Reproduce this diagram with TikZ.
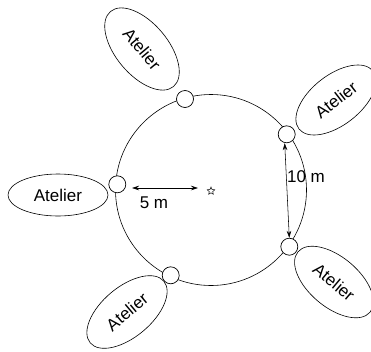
\documentclass[tikz,border=0pt]{standalone}
\usepackage{fontspec}
\setmainfont{Liberation Sans}
\usetikzlibrary{shapes.geometric,arrows.meta}
\begin{document}
\begin{tikzpicture}[x=1pt,y=-1pt,
  atelier/.style={draw,ellipse,inner sep=0pt,font=\fontsize{17}{20}\selectfont,line width=0.6pt},
  door/.style={draw,circle,fill=white,minimum size=17pt,inner sep=0pt,line width=0.7pt},
  dim/.style={line width=0.55pt,{Stealth[length=7pt,width=4.5pt]}-{Stealth[length=7pt,width=4.5pt]}},
  lbl/.style={font=\fontsize{17}{20}\selectfont,inner sep=0pt}]
\useasboundingbox (0,0) rectangle (371,351);
\coordinate (c) at (211,190);
\draw[line width=0.6pt] (c) circle[radius=95.5pt];
\node[door] (p1) at (185,99) {};
\node[door] (p2) at (286.7,134.3) {};
\node[door] (p3) at (117.3,184.3) {};
\node[door] (p4) at (289.3,246.7) {};
\node[door] (p5) at (170.7,275.3) {};
\node[atelier,minimum width=98pt,minimum height=52pt,rotate=-50] (a1) at (142,49) {Atelier};
\node[atelier,minimum width=94pt,minimum height=50pt,rotate=38] (a2) at (336,100) {Atelier};
\node[atelier,minimum width=100pt,minimum height=42pt] (a3) at (58,195) {Atelier};
\node[atelier,minimum width=94pt,minimum height=50pt,rotate=-40] (a4) at (334,282) {Atelier};
\node[atelier,minimum width=96pt,minimum height=50pt,rotate=40] (a5) at (127,312) {Atelier};
\node[star,star points=5,star point ratio=2.2,draw,minimum size=8pt,inner sep=0pt,line width=0.5pt] (s) at (211,191) {};
\coordinate (l1) at (132,188);
\coordinate (l2) at (198,188);
\draw[dim] (l1) -- (l2);
\node[lbl] (t5) at (154,203) {5 m};
\path (p2.south) ++(-2,0) coordinate (m1) (p4.north) coordinate (m2);
\draw[dim] (m1) -- (m2);
\node[lbl] (t10) at (306,177) {10 m};
\end{tikzpicture}
\end{document}
